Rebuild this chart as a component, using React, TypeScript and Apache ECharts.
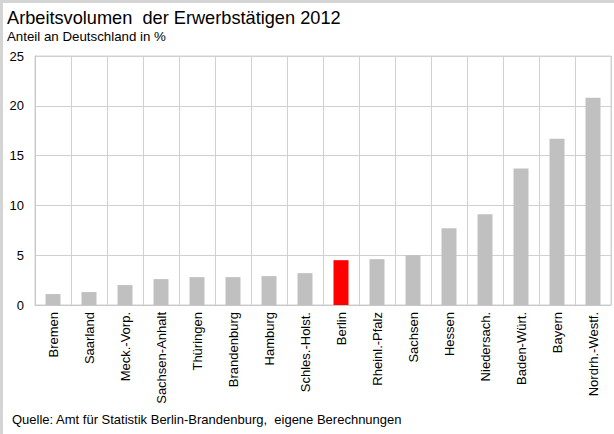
import React, { useEffect, useRef } from "react";
import * as echarts from "echarts";

const categories = [
  "Bremen", "Saarland", "Meck.-Vorp.", "Sachsen-Anhalt", "Thüringen", "Brandenburg",
  "Hamburg", "Schles.-Holst.", "Berlin", "Rheinl.-Pfalz", "Sachsen", "Hessen",
  "Niedersach.", "Baden-Würt.", "Bayern", "Nordrh.-Westf.",
];
const values = [1.1, 1.3, 2.0, 2.6, 2.8, 2.8, 2.9, 3.2, 4.5, 4.6, 5.0, 7.7, 9.1, 13.7, 16.7, 20.8];
const highlight = "Berlin";
const titleText = "Arbeitsvolumen  der Erwerbstätigen 2012";
const subtitleText = "Anteil an Deutschland in %";
const sourceText = "Quelle: Amt für Statistik Berlin-Brandenburg,  eigene Berechnungen";

const FONT = "'Liberation Sans', Arial, sans-serif";

export default function App() {
  const ref = useRef<HTMLDivElement>(null);
  useEffect(() => {
    if (!ref.current) return;
    const chart = echarts.init(ref.current, null, { renderer: "svg" });
    chart.setOption({
      animation: false,
      backgroundColor: "#ffffff",
      textStyle: { fontFamily: FONT },
      graphic: [
        { type: "rect", shape: { x: 0, y: 0, width: 614, height: 3 }, style: { fill: "#d4d4d4" } },
        { type: "rect", shape: { x: 0, y: 0, width: 3, height: 434 }, style: { fill: "#d4d4d4" } },
        {
          type: "text", left: 7, top: 9,
          style: { text: titleText, fontSize: 18.2, fontFamily: FONT, fill: "#000" },
        },
        {
          type: "text", left: 7, top: 30,
          style: { text: subtitleText, fontSize: 13.3, fontFamily: FONT, fill: "#000" },
        },
        {
          type: "text", left: 12, top: 413,
          style: { text: sourceText, fontSize: 13, fontFamily: FONT, fill: "#000" },
        },
      ],
      grid: {
        left: 35, right: 3, top: 56, bottom: 129,
        show: true, borderColor: "#d0d0d0", borderWidth: 1,
      },
      xAxis: {
        type: "category",
        data: categories,
        axisTick: { show: false },
        axisLine: { lineStyle: { color: "#c8c8c8" } },
        splitLine: { show: true, lineStyle: { color: "#d0d0d0" } },
        axisLabel: { rotate: 90, fontSize: 13, color: "#000", margin: 7, interval: 0, fontFamily: FONT },
      },
      yAxis: {
        type: "value",
        min: 0, max: 25, interval: 5,
        axisLine: { show: true, lineStyle: { color: "#c8c8c8" } },
        axisTick: { show: false },
        splitLine: { lineStyle: { color: "#d0d0d0" } },
        axisLabel: { fontSize: 13, color: "#000", margin: 11, fontFamily: FONT },
      },
      series: [
        {
          type: "bar",
          barWidth: 15,
          data: values.map((v, i) => ({
            value: v,
            itemStyle: { color: categories[i] === highlight ? "#ff0000" : "#c0c0c0" },
          })),
        },
      ],
    });
    return () => chart.dispose();
  }, []);
  return (
    <div
      ref={ref}
      style={{ position: "absolute", left: 0, top: 0, width: 614, height: 434 }}
    />
  );
}
